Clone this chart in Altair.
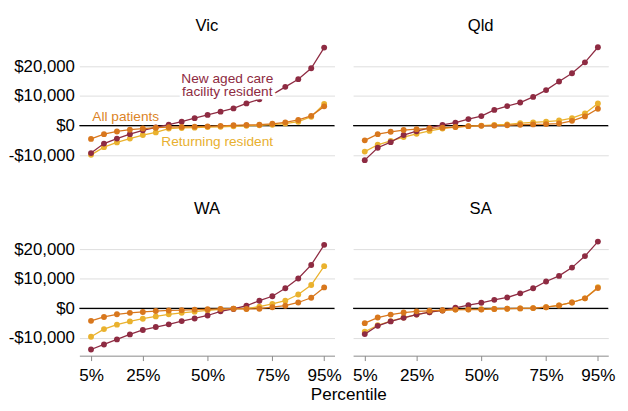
import altair as alt
import pandas as pd

pct = [5, 10, 15, 20, 25, 30, 35, 40, 45, 50, 55, 60, 65, 70, 75, 80, 85, 90, 95]
states = ["Vic", "Qld", "WA", "SA"]
series_names = ["New aged care facility resident", "All patients", "Returning resident"]

vic_new = [-9300, -6100, -4400, -2900, -1600, -600, 300, 1300, 2500, 3600, 4700, 5800, 7500, 8900, 10500, 13100, 15700, 19400, 26400]
vic_all = [-4500, -2900, -2000, -1400, -1000, -700, -550, -450, -350, -250, -100, 100, 200, 300, 600, 1100, 1900, 3300, 6500]
vic_ret = [-9900, -7300, -5700, -4400, -3200, -2300, -1000, -800, -700, -500, -400, -250, -100, 100, 300, 700, 1300, 3000, 7300]

qld_new = [-11700, -7500, -5600, -3200, -1900, -800, 200, 1000, 2200, 3200, 5300, 6600, 7800, 9700, 12000, 14900, 17700, 21400, 26500]
qld_all = [-5000, -2900, -2100, -1500, -1200, -1000, -700, -500, -200, -100, 0, 100, 300, 400, 500, 700, 1600, 3100, 5700]
qld_ret = [-8800, -6500, -5200, -3900, -2800, -1800, -1000, -500, -200, 0, 200, 400, 800, 1100, 1300, 1700, 2500, 4100, 7500]

wa_new = [-13900, -12200, -10500, -8800, -7300, -6300, -5400, -4300, -3400, -2400, -1000, -200, 900, 2600, 4100, 6800, 10100, 14700, 21500]
wa_all = [-4200, -2900, -2000, -1500, -1200, -900, -700, -600, -400, -300, -200, -100, -200, -100, 400, 900, 2000, 3600, 7100]
wa_ret = [-9600, -7000, -5500, -4400, -3500, -2700, -2000, -1500, -1100, -700, -300, -100, -100, 600, 1500, 2600, 4700, 7900, 14300]

sa_new = [-8700, -5900, -4400, -3200, -2100, -1300, -700, 200, 1100, 1900, 2900, 3700, 5100, 6800, 9100, 11000, 13800, 17700, 22600]
sa_all = [-5000, -3100, -2100, -1400, -1000, -800, -600, -400, -400, -400, -200, -100, 0, 100, 400, 1000, 2000, 3400, 6900]
sa_ret = [-7900, -5700, -4300, -3100, -2100, -1300, -700, -400, -300, -300, -200, -100, 0, 100, 400, 1000, 2000, 3400, 7200]

values = {
    "Vic": [vic_new, vic_all, vic_ret],
    "Qld": [qld_new, qld_all, qld_ret],
    "WA": [wa_new, wa_all, wa_ret],
    "SA": [sa_new, sa_all, sa_ret],
}

# annotation labels (Vic panel only)
label_text = ["New aged care", "facility resident", "All patients", "Returning resident"]
label_series = [series_names[0], series_names[0], series_names[1], series_names[2]]
label_x = [57.6, 57.6, 18.4, 53.7]
label_y = [15800, 11200, 3000, -5500]

rows = []
for st in states:
    for name, vals in zip(series_names, values[st]):
        for p, v in zip(pct, vals):
            rows.append({"state": st, "kind": "data", "series": name, "pct": p, "value": v, "text": ""})
for t, s, x, y in zip(label_text, label_series, label_x, label_y):
    rows.append({"state": "Vic", "kind": "label", "series": s, "pct": x, "value": y, "text": t})
df = pd.DataFrame(rows)

colors = {
    "New aged care facility resident": "#8E2B42",
    "All patients": "#D8771D",
    "Returning resident": "#EAB22E",
}
text_colors = {
    "New aged care facility resident": "#8E2B42",
    "All patients": "#DC8426",
    "Returning resident": "#E8B030",
}
FONT = "Liberation Sans"

xenc = alt.X("pct:Q", scale=alt.Scale(domain=[0.5, 99], nice=False, zero=False),
             axis=alt.Axis(values=[5, 25, 50, 75, 95], labelExpr="datum.value + '%'",
                           title=None, grid=False, labelFontSize=17.5, labelFont=FONT,
                           labelColor="black", domainColor="#888888", tickColor="#888888",
                           tickSize=5, labelPadding=6))
yenc = alt.Y("value:Q", scale=alt.Scale(domain=[-16000, 28000], nice=False),
             axis=alt.Axis(values=[-10000, 0, 10000, 20000],
                           labelExpr="datum.value < 0 ? '-$' + format(-datum.value, ',') : '$' + format(datum.value, ',')",
                           title=None, domain=False, ticks=False, grid=True, gridColor="#DDDDDD",
                           labelFontSize=17.2, labelFont=FONT, labelColor="black", labelPadding=4))

base = alt.Chart()

layers = []
zero = base.mark_rule(color="black", strokeWidth=1.2).encode(y=alt.datum(0)).transform_filter(
    "datum.kind == 'data' && datum.pct == 5 && datum.series == 'All patients'")
layers.append(zero)

for name in ["Returning resident", "New aged care facility resident", "All patients"]:
    f = alt.datum.series == name
    line = base.mark_line(color=colors[name], strokeWidth=1.3).encode(x=xenc, y=yenc).transform_filter(
        (alt.datum.kind == "data") & f)
    pts = base.mark_circle(color=colors[name], size=36, opacity=1).encode(x=xenc, y=yenc).transform_filter(
        (alt.datum.kind == "data") & f)
    layers += [line, pts]

halo = base.mark_text(font=FONT, fontSize=14, stroke="white", strokeWidth=7, fill="white",
                      strokeJoin="round").encode(
    x="pct:Q", y="value:Q", text="text:N").transform_filter(
    (alt.datum.kind == "label") & (alt.datum.series == "New aged care facility resident"))
layers.append(halo)
txt = base.mark_text(font=FONT, fontSize=14).encode(
    x="pct:Q", y="value:Q", text="text:N",
    color=alt.Color("series:N", scale=alt.Scale(domain=list(text_colors.keys()), range=list(text_colors.values())), legend=None),
).transform_filter(alt.datum.kind == "label")
layers.append(txt)

chart = alt.layer(*layers, data=df).properties(width=261, height=133).facet(
    facet=alt.Facet("state:N", sort=states,
                    header=alt.Header(title=None, labelFontSize=17, labelFont=FONT, labelColor="black",
                                      labelPadding=8)),
    columns=2, spacing={"row": 28, "column": 17},
).properties(
    title=alt.TitleParams("Percentile", orient="bottom", anchor="middle", fontSize=17.5,
                          fontWeight="normal", font=FONT, color="black", dx=38, offset=3),
    padding={"left": 0, "top": 5, "right": 5, "bottom": 5},
).configure_view(stroke=None).configure_axis(labelFont=FONT)

chart.save("out.html", embed_options={"renderer": "svg", "actions": False})
